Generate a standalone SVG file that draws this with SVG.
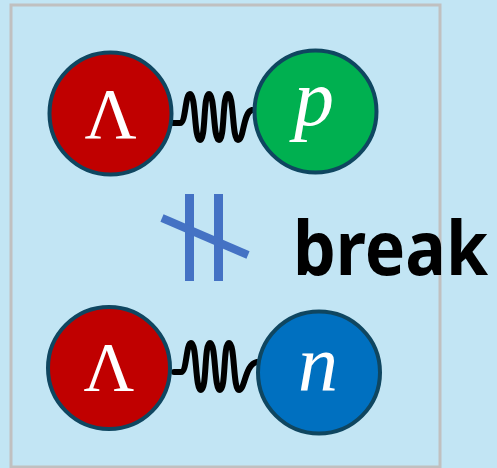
<svg xmlns="http://www.w3.org/2000/svg" width="497" height="468" viewBox="0 0 497 468">
<style>
.ball{stroke:#0F4660;stroke-width:4}
.sym{fill:#fff;font-family:"Liberation Serif","DejaVu Serif",serif;text-anchor:middle}
.it{font-style:italic}
.spring{fill:none;stroke:#000;stroke-width:6;stroke-linecap:round;stroke-linejoin:round}
.brk{stroke:#4472C4;fill:none}
</style>
<rect x="0" y="0" width="497" height="468" fill="#C2E5F4"/>
<rect x="11" y="5" width="429" height="462" fill="none" stroke="#C0C0C0" stroke-width="3"/>
<g id="connectors">
<path class="spring" d="M173,123 L180,123 C186,123 185,94 190,94 C196,94 194,140 200,140 C206,140 203,94 209,94 C215,94 213,140 219,140 C225,140 222,94 228,94 C234,94 232,140 238,140 C244,140 243,112 252,110"/>
<path class="spring" d="M174,372 L181,372 C187,372 186,343 191,343 C197,343 195,390 201,390 C207,390 204,343 210,343 C216,343 214,390 220,390 C226,390 223,343 229,343 C235,343 233,390 239,390 C245,390 245,364 257,362"/>
</g>
<g id="lambda1">
<circle class="ball" cx="110.5" cy="113.5" r="61" fill="#C00000"/>
<text class="sym" x="110.5" y="138" font-size="72">Λ</text>
</g>
<g id="proton">
<circle class="ball" cx="315.5" cy="111.5" r="61" fill="#00B050"/>
<text class="sym it" x="314" y="125" font-size="80">p</text>
</g>
<g id="break">
<line class="brk" x1="189.5" y1="194" x2="189.5" y2="281" stroke-width="9"/>
<line class="brk" x1="218.5" y1="194" x2="218.5" y2="281" stroke-width="9"/>
<line class="brk" x1="162" y1="218" x2="248" y2="255" stroke-width="8"/>
<text x="293" y="275" font-family="'Noto Sans','Liberation Sans',sans-serif" font-weight="bold" font-size="76" textLength="195" lengthAdjust="spacingAndGlyphs" fill="#000">break</text>
</g>
<g id="lambda2">
<circle class="ball" cx="109" cy="368" r="61" fill="#C00000"/>
<text class="sym" x="109" y="391" font-size="70">Λ</text>
</g>
<g id="neutron">
<circle class="ball" cx="319" cy="372.5" r="61" fill="#0070C0"/>
<text class="sym it" x="318" y="390" font-size="80">n</text>
</g>
</svg>
